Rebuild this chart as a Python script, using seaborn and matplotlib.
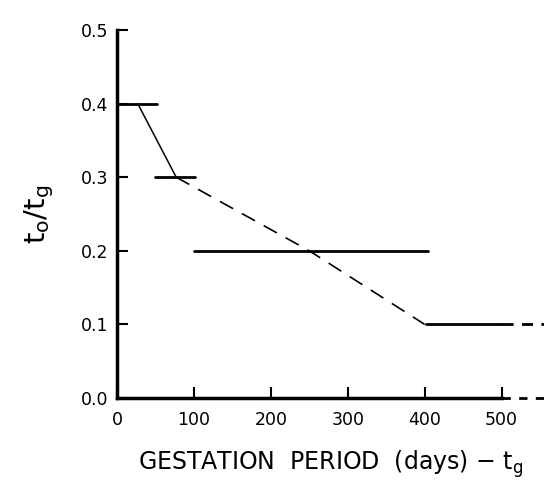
import matplotlib
matplotlib.use("Agg")
from matplotlib import pyplot as plt
import numpy as np
import pandas as pd
import seaborn as sns

# step values of t0/tg
step_x = [[0, 52], [50, 101], [100, 404], [402, 500]]
step_y = [0.4, 0.3, 0.2, 0.1]

# trend line: solid first piece, then dashed
trend_solid_x = [27, 77]
trend_solid_y = [0.4, 0.3]
trend_dash_x = [77, 250, 400]
trend_dash_y = [0.3, 0.2, 0.1]

# dashed extensions past 500 days
ext_x = [500, 560]
ext_y_top = [0.1, 0.1]
ext_y_axis = [0.0, 0.0]

xticks = [0, 100, 200, 300, 400, 500]
yticks = [0.0, 0.1, 0.2, 0.3, 0.4, 0.5]

sns.set_style("ticks")
plt.rcParams['font.family'] = ['DejaVu Sans']
plt.rcParams['text.color'] = 'black'
plt.rcParams['axes.labelcolor'] = 'black'

fig = plt.figure(figsize=(5.44, 4.92), dpi=100)
ax = fig.add_axes([0.215, 0.191, 0.785, 0.748])

for xs, yv in zip(step_x, step_y):
    df = pd.DataFrame({"x": xs, "y": [yv] * len(xs)})
    sns.lineplot(data=df, x="x", y="y", ax=ax, color="black", lw=2.0,
                 estimator=None, sort=False)

sns.lineplot(x=trend_solid_x, y=trend_solid_y, ax=ax, color="black", lw=1.1,
             estimator=None, sort=False)
sns.lineplot(x=trend_dash_x, y=trend_dash_y, ax=ax, color="black", lw=1.2,
             estimator=None, sort=False, linestyle=(0, (9, 6)))
sns.lineplot(x=ext_x, y=ext_y_top, ax=ax, color="black", lw=2.0,
             estimator=None, sort=False, linestyle=(0, (4, 3)))
sns.lineplot(x=ext_x, y=ext_y_axis, ax=ax, color="black", lw=2.0,
             estimator=None, sort=False, linestyle=(0, (3, 3)), clip_on=False)

ax.set_xlim(0, 555)
ax.set_ylim(0, 0.5)
ax.set_xticks(xticks)
ax.set_xticklabels([str(t) for t in xticks])
ax.set_yticks(yticks)
ax.set_yticklabels(["%.1f" % t for t in yticks])
ax.tick_params(direction="in", length=8, width=1.5, labelsize=12.5, colors="black")
ax.tick_params(axis="x", pad=9)
ax.tick_params(axis="y", pad=6)

sns.despine(ax=ax, top=True, right=True)
ax.spines["left"].set_bounds(0, 0.5)
ax.spines["bottom"].set_bounds(0, 500)
for s in ["left", "bottom"]:
    ax.spines[s].set_linewidth(2.5)
    ax.spines[s].set_color("black")

ax.set_xlabel(r"GESTATION  PERIOD  (days) $-$ $\mathregular{t_g}$", fontsize=17,
              labelpad=14, color="black")
ax.set_ylabel(r"$\mathregular{t_o/t_g}$", fontsize=21, labelpad=18, color="black")

fig.savefig("out.png", dpi=100)
